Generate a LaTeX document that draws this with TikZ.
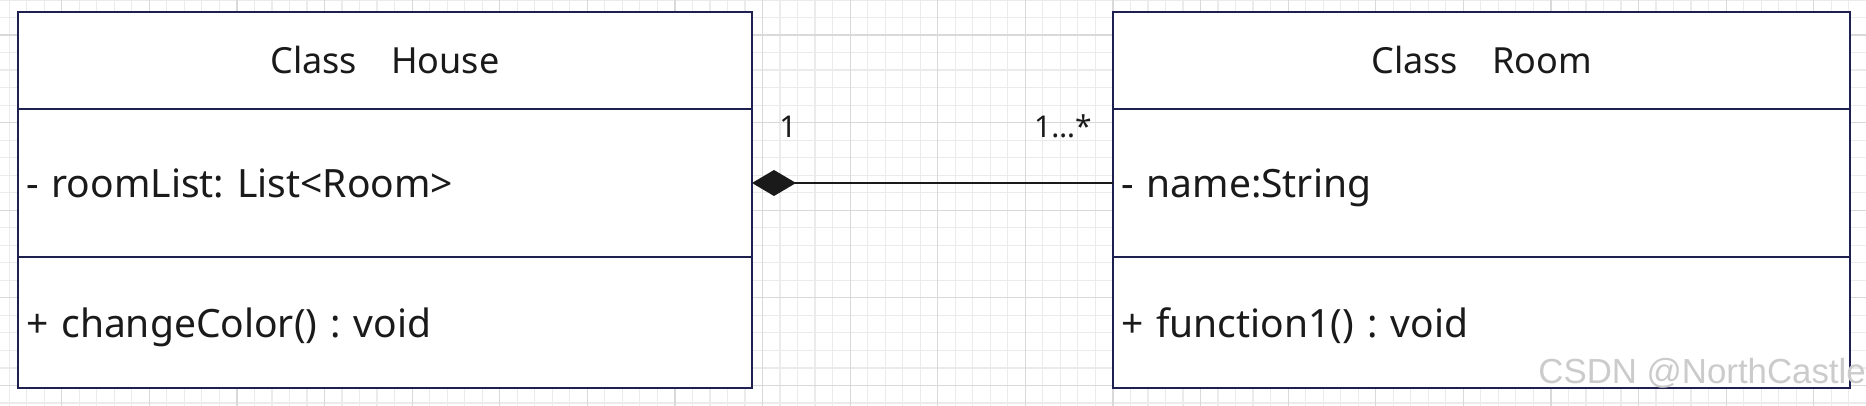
\documentclass[tikz,border=0pt]{standalone}
\usepackage{fontspec}
\setmainfont{Noto Sans}
\newfontfamily\markfont{Liberation Sans}
\usepackage{xcolor}
\usepackage{tikz}
\usetikzlibrary{arrows.meta,positioning}
\definecolor{Ink}{HTML}{1A1A1A}
\definecolor{Frame}{HTML}{1E2150}
\definecolor{GridMinor}{HTML}{EBEBEB}
\definecolor{GridMajor}{HTML}{D9D9D9}
\definecolor{Stamp}{HTML}{CBCBCB}
\frenchspacing

\tikzset{
  compart/.style={draw=Frame, fill=white, line width=1pt, outer sep=0pt,
    inner xsep=4pt, inner ysep=0pt, text=Ink, font=\fontsize{19.5}{23}\selectfont},
  headbox/.style={compart, align=center, minimum height=48.5pt,
    font=\fontsize{18}{22}\selectfont},
  attrbox/.style={compart, align=left, minimum height=74pt, text depth=0pt},
  opsbox/.style={compart, align=left, minimum height=65.5pt, text depth=0pt},
  mult/.style={inner sep=0pt, text=Ink, font=\fontsize{15}{18}\selectfont},
  stamp/.style={inner sep=0pt, text=Stamp, font=\markfont\fontsize{17.4}{20}\selectfont}
}

\begin{document}
\begin{tikzpicture}[x=1pt,y=-1pt,>=Latex]
  \useasboundingbox (0,0) rectangle (933,203);
  \fill[white] (0,0) rectangle (933,203);
  % background grid
  \foreach \gx in {4.57,13.33,...,933} \draw[GridMinor,line width=0.6pt] (\gx,0) -- (\gx,203);
  \foreach \gy in {0,8.76,...,203} \draw[GridMinor,line width=0.6pt] (0,\gy) -- (933,\gy);
  \foreach \gx in {30.85,74.65,...,933} \draw[GridMajor,line width=0.6pt] (\gx,0) -- (\gx,203);
  \foreach \gy in {17.5,61.3,...,203} \draw[GridMajor,line width=0.6pt] (0,\gy) -- (933,\gy);

  % class House
  \node[headbox, anchor=north west, text width=359pt] (houseHead) at (9,6)
    {Class\hspace{17pt}House};
  \node[attrbox, below=0pt of houseHead, text width=359pt] (houseAttr)
    {- roomList: List<Room>};
  \node[opsbox, below=0pt of houseAttr, text width=359pt] (houseOps)
    {+ changeColor() : void};

  % class Room
  \node[headbox, anchor=north west, text width=360.5pt] (roomHead) at (556.5,6)
    {Class\hspace{17pt}Room};
  \node[attrbox, below=0pt of roomHead, text width=360.5pt] (roomAttr)
    {- name:String};
  \node[opsbox, below=0pt of roomAttr, text width=360.5pt] (roomOps)
    {+ function1() : void};

  % composition
  \draw[Ink, line width=1pt, -{Diamond[length=22pt,width=13pt]}]
    (roomAttr.west) -- (houseAttr.east);
  \node[mult, anchor=base] (houseMult) at (394,68.7) {1};
  \node[mult, anchor=base east] (roomMult) at (546,68.7) {1…*};

  \node[stamp, anchor=base west] (csdnMark) at (769,191.5) {CSDN @NorthCastle};
\end{tikzpicture}
\end{document}
